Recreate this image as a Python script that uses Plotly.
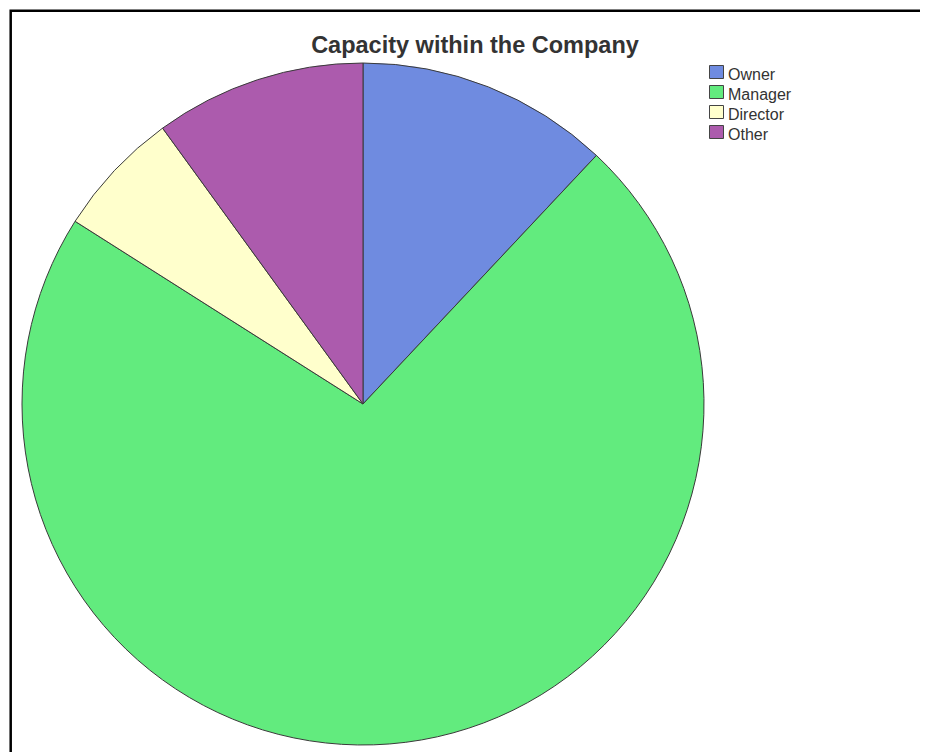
import plotly.graph_objects as go

labels = ["Owner", "Manager", "Director", "Other"]
values = [12, 72, 6, 10]
colors = ["#6F8BE0", "#62EB7E", "#FFFFCC", "#AC5BAD"]
title_text = "Capacity within the Company"

W, H = 928, 752
OFF = 8  # page body margin


def px(sx):
    return (sx - OFF) / W


def py(sy):
    return 1 - (sy - OFF) / H


cx, cy, r = 363, 404, 341

fig = go.Figure(go.Pie(
    labels=labels, values=values, sort=False, direction="clockwise", rotation=0,
    textinfo="none", hoverinfo="label+percent", showlegend=False,
    marker=dict(colors=colors, line=dict(color="#3a3a3a", width=1)),
    domain=dict(x=[px(cx - r), px(cx + r)], y=[py(cy + r), py(cy - r)]),
))

shapes = [dict(type="rect", xref="paper", yref="paper",
               x0=px(10.7), x1=1.1, y0=-0.1, y1=py(10.7),
               line=dict(color="black", width=2.5))]
annotations = []
for i, (lab, col) in enumerate(zip(labels, colors)):
    top = 65.5 + 20 * i
    shapes.append(dict(type="rect", xref="paper", yref="paper",
                       x0=px(709.5), x1=px(723.5), y0=py(top + 13), y1=py(top),
                       fillcolor=col, line=dict(color="#444444", width=1)))
    annotations.append(dict(text=lab, xref="paper", yref="paper", showarrow=False,
                            x=px(726), y=py(top + 9), xanchor="left", yanchor="middle",
                            font=dict(family="Liberation Sans, Arial", size=16, color="#333333")))

fig.update_layout(
    width=W, height=H, margin=dict(l=0, r=0, t=0, b=0),
    paper_bgcolor="white", plot_bgcolor="white",
    title=dict(text="<b>" + title_text + "</b>", x=px(475), xanchor="center",
               y=py(45), yanchor="middle",
               font=dict(family="Liberation Sans, Arial", size=23.5, color="#333333")),
    shapes=shapes, annotations=annotations,
)

fig.write_html("out.html")
